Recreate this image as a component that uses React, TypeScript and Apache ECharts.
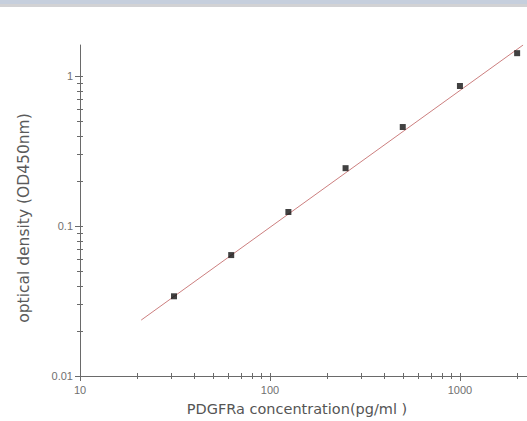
import React, { useEffect, useRef } from "react";
import * as echarts from "echarts";

const concentrations = [31.25, 62.5, 125, 250, 500, 1000, 2000];
const opticalDensity = [0.034, 0.064, 0.124, 0.243, 0.457, 0.858, 1.42];
const fitX = [21, 2150];
const fitY = [0.0236, 1.61];
const xMajorTicks = [10, 100, 1000];
const xMinorTicks = [20, 30, 40, 50, 60, 70, 80, 90, 200, 300, 400, 500, 600, 700, 800, 900, 2000];
const yMajorTicks = [0.01, 0.1, 1];
const yMinorTicks = [0.02, 0.03, 0.04, 0.05, 0.06, 0.07, 0.08, 0.09, 0.2, 0.3, 0.4, 0.5, 0.6, 0.7, 0.8, 0.9];
const xRange = [10, 2254];
const yRange = [0.01, 1.61];
const xTitle = "PDGFRa concentration(pg/ml )";
const yTitle = "optical density (OD450nm)";

const fmt = (v: number) => String(parseFloat(Number(v).toPrecision(6)));

export default function App() {
  const ref = useRef<HTMLDivElement>(null);
  useEffect(() => {
    if (!ref.current) return;
    const chart = echarts.init(ref.current, null, { renderer: "svg" });
    const axisColor = "#6a6a6a";
    const labelStyle = {
      formatter: fmt,
      color: "#707070",
      fontSize: 11,
      fontFamily: "Liberation Sans, Arial, sans-serif",
    };
    const xTickPoints = xMinorTicks.concat(xMajorTicks).map((v) => [v, yRange[0]]);
    const baseGraphic: any[] = [
      { id: "band1", type: "rect", left: 0, top: 0, shape: { width: 527, height: 4 }, style: { fill: "#c6cfdd" } },
      { id: "band2", type: "rect", left: 0, top: 4, shape: { width: 527, height: 3 }, style: { fill: "#d2d2d4" } },
      {
        id: "xTitle",
        type: "text",
        x: 297,
        y: 409,
        style: {
          text: xTitle,
          fill: "#555555",
          font: "14.5px 'DejaVu Sans', sans-serif",
          textAlign: "center",
          textVerticalAlign: "middle",
        },
      },
      {
        id: "yTitle",
        type: "text",
        x: 24,
        y: 218,
        rotation: Math.PI / 2,
        style: {
          text: yTitle,
          fill: "#5a5a5a",
          font: "15.5px 'DejaVu Sans', sans-serif",
          textAlign: "center",
          textVerticalAlign: "middle",
        },
      },
    ];
    chart.setOption({
      animation: false,
      backgroundColor: "#ffffff",
      graphic: baseGraphic,
      grid: { left: 80, right: 0, top: 45, bottom: 45, containLabel: false },
      xAxis: {
        type: "log",
        logBase: 10,
        min: xRange[0],
        max: xRange[1],
        splitLine: { show: false },
        axisLine: { show: true, onZero: false, lineStyle: { color: axisColor, width: 1 } },
        axisTick: { show: true, length: 5, customValues: xMajorTicks, lineStyle: { color: axisColor } },
        axisLabel: { ...labelStyle, customValues: xMajorTicks, margin: 8 },
      },
      yAxis: {
        type: "log",
        logBase: 10,
        min: yRange[0],
        max: yRange[1],
        splitLine: { show: false },
        axisLine: { show: true, onZero: false, lineStyle: { color: axisColor, width: 1 } },
        axisTick: { show: true, length: 5, customValues: yMajorTicks, lineStyle: { color: axisColor } },
        axisLabel: { ...labelStyle, customValues: yMajorTicks, margin: 7 },
      },
      series: [
        {
          type: "custom",
          silent: true,
          clip: false,
          data: xTickPoints,
          encode: { x: 0, y: 1 },
          renderItem: (params: any, api: any) => {
            const p = api.coord([api.value(0), api.value(1)]);
            const x = Math.round(p[0]) + 0.5;
            return {
              type: "line",
              shape: { x1: x, y1: p[1] - 3, x2: x, y2: p[1] + 3 },
              style: { stroke: axisColor, lineWidth: 1 },
            };
          },
          z: 1,
        },
        {
          type: "line",
          data: fitX.map((x, i) => [x, fitY[i]]),
          showSymbol: false,
          symbol: "none",
          lineStyle: { color: "#cc7f7f", width: 1 },
          silent: true,
          z: 2,
        },
        {
          type: "scatter",
          data: concentrations.map((x, i) => [x, opticalDensity[i]]),
          symbol: "rect",
          symbolSize: 6,
          itemStyle: { color: "#111111" },
          z: 3,
        },
      ],
    });
    // y-axis minor ticks placed through the axis scale
    const axisX = chart.convertToPixel({ xAxisIndex: 0 } as any, xRange[0]) as unknown as number;
    const yTicks = yMinorTicks.concat(yMajorTicks).map((v, i) => {
      const py = chart.convertToPixel({ yAxisIndex: 0 } as any, v) as unknown as number;
      const y = Math.round(py) + 0.5;
      return {
        id: "ytick" + i,
        type: "line",
        silent: true,
        z: 10,
        shape: { x1: axisX - 3, y1: y, x2: axisX + 3, y2: y },
        style: { stroke: axisColor, lineWidth: 1 },
      };
    });
    chart.setOption({ graphic: baseGraphic.concat(yTicks) });
    return () => chart.dispose();
  }, []);
  return (
    <div
      ref={ref}
      style={{ position: "absolute", left: 0, top: 0, width: 527, height: 421 }}
    />
  );
}
